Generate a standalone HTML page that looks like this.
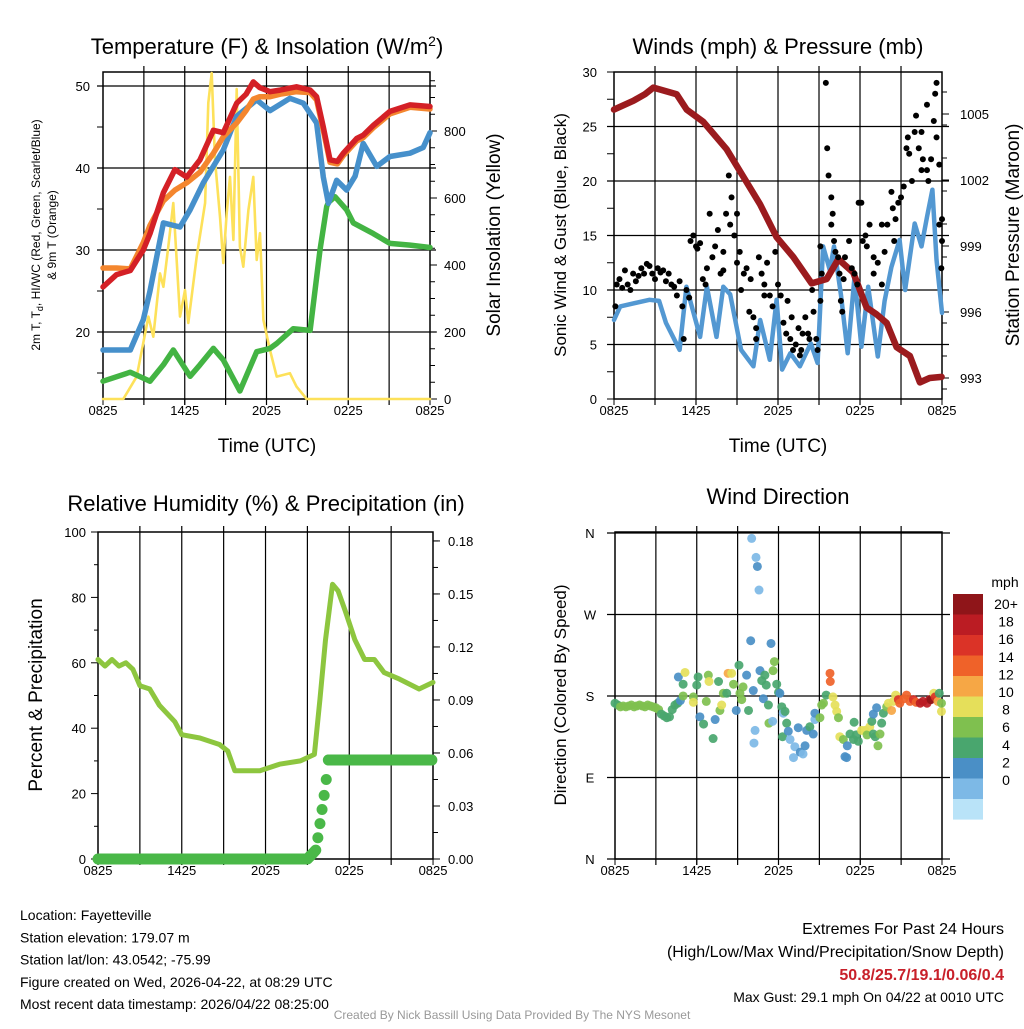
<!DOCTYPE html>
<html><head><meta charset="utf-8">
<style>
body{margin:0;background:#fff;width:1024px;height:1024px;overflow:hidden;font-family:"Liberation Sans",sans-serif}
svg text{font-family:"Liberation Sans",sans-serif}
</style></head>
<body>
<svg id="s" width="1024" height="1024" xmlns="http://www.w3.org/2000/svg">
<g id="g"></g>
</svg>
<script>
// ---- Panel 1 data ----
const tempHours=[0,1,2,2.96,3.45,4.43,5.28,6.14,7.12,8.1,8.83,9.81,10.5,11.03,11.5,12.26,13,14.2,15.2,15.68,16.17,16.66,17.2,17.64,18.62,19.1,19.84,21.06,22.53,24];
const tempRed=[25.5,27,27.5,30,32,37,39.8,38.9,41,44.6,44.3,47.9,49,50.5,49.8,49.3,49.5,49.9,49.5,48.7,45,41,40.8,41.8,43.6,44,45.2,46.9,47.7,47.5];
const tempOrange=[27.8,27.8,27.7,30.9,33,36,37.3,38.2,39.5,41.8,43.8,45.5,47,48.4,48.7,48.7,49,49.3,49.2,48.3,44.6,40.7,40.5,41.5,43.3,43.7,44.9,46.6,47.4,47.2];
const dewHours=[0,2,2.96,3.45,4.43,5.65,6.39,7.36,8.83,9.81,11.28,12.26,13.72,14.7,15.68,16.17,16.54,17.15,17.88,18.5,19.1,20.09,21.06,22.53,23.5,24];
const dewBlue=[17.8,17.8,21.5,25,33.3,32.8,34.9,38.2,42.2,46.3,48.3,47,48.5,47.9,45.5,38.9,35.7,38.5,37.3,39,43,40.2,41.4,41.8,42.5,44.3];
const hiHours=[0,2,3.45,4.43,5.16,6.39,7.12,8.1,8.83,10.05,11.28,12.26,12.75,13.97,15.2,15.93,16.42,16.54,17.03,17.88,18.37,19.84,21.06,22.53,24];
const hiGreen=[14,15.1,14,16,17.8,14.6,16,18,16.6,12.8,17.6,18,18.6,20.4,20.2,30,35.3,35.8,36.5,34.9,33.3,32,30.8,30.6,30.3];
const solHours=[0,1.49,2.47,3.33,3.69,4.18,4.43,4.79,5.16,5.65,6.02,6.26,6.88,7.49,7.73,7.98,8.22,8.59,8.83,9.08,9.32,9.57,9.81,10.05,10.3,10.67,11.03,11.28,11.52,11.77,12.26,12.75,13.72,14.2,14.95,24];
const solar=[0,0,67,246,186,375,335,455,585,246,325,227,425,585,884,973,713,544,406,555,663,475,925,455,395,564,663,415,495,236,146,67,77,37,0,0];
// ---- Panel 2 data ----
const presHours=[0,1.41,2.27,2.88,4.58,5.32,6.53,8.24,9.46,10.68,11.9,13.12,14.46,15.56,16.41,17.5,18.48,19.2,19.95,20.68,21.65,22.38,23.1,23.97];
const pressure=[1005.2,1005.6,1005.9,1006.2,1005.9,1005.2,1004.65,1003.4,1002.15,1000.9,999.4,998.5,997.3,997.5,998.4,997.8,996.2,995.9,995.5,994.4,994,992.8,993,993.05];
const windHours=[0,0.45,2.6,3.3,3.8,4.8,5.3,6.3,6.8,7.5,8,8.5,9.3,10.2,10.7,11.4,11.9,12.3,12.9,13.6,14.4,14.9,15.3,15.8,16.1,16.6,17.1,17.6,18.1,18.6,19.3,19.8,20.3,20.9,21.3,22,22.5,22.9,23.3,23.6,24];
const windSonic=[7.25,8.5,9.1,9,7,4.5,10.3,5.7,10.3,5.7,10.3,9.6,4.5,3,7.25,3.6,9.1,2.7,4.2,3,5.1,3.3,14,11.8,14,9.6,4.2,11.2,4.8,10.3,3.9,9,12.1,14.6,10,16.1,14,16.7,19.2,12.8,7.9];
const gustHours=[0.1,0.2,0.4,0.6,0.8,1,1.2,1.4,1.6,1.8,2,2.2,2.4,2.6,2.8,3,3.2,3.4,3.6,3.8,4,4.2,4.4,4.6,4.8,5,5.1,5.3,5.5,5.6,5.8,6,6.1,6.3,6.5,6.7,6.8,7,7.2,7.4,7.6,7.8,8,8,8.2,8.4,8.5,8.6,8.8,9,9,9.2,9.3,9.5,9.7,9.9,10,10.2,10.4,10.4,10.6,10.8,11,11,11.2,11.4,11.6,11.8,12,12.2,12.4,12.6,12.7,12.9,13,13.1,13.3,13.5,13.6,13.7,13.8,14,14.2,14.3,14.5,14.6,14.8,14.9,15.1,15.1,15.2,15.5,15.6,15.7,15.9,15.9,16,16.1,16.2,16.4,16.5,16.6,16.7,16.8,16.9,17.2,17.4,17.6,17.8,17.9,18.1,18.2,18.4,18.5,18.7,19,19,19.3,19.6,19.8,19.6,20,20.3,20.4,20.5,20.6,20.8,21,21.2,21.4,21.5,21.6,21.8,22,22.1,22.3,22.5,22.6,22.9,23,23.2,23.4,23.6,23.8,24,23.95,23.8,24,23.5,23.6,22.9,22.5];
const gustValues=[8.5,10.5,11,10.2,11.8,10.5,10,11.5,10.8,11.3,12,11.5,12.4,12.2,11.5,11,12,11.6,11.8,10.8,11.5,10.5,10.3,9.5,10.8,8.5,5.5,10,9.3,14.5,15,14,13.8,14.3,11,10.5,12,17,13,14,15.5,11.5,13.5,11.8,17,20.5,16,18.5,15,17,12.5,13.5,10,11.5,12,8,11,7.5,6.5,5.5,13,11.5,10.5,9.5,12.5,9.5,8.5,13.5,10.5,9.5,7,6,9,5.5,7.5,4.5,5,6.5,4,4.5,6,7.5,6,5.5,10,8,5.5,4.5,9,14,11.5,29,23,20.5,16,18.5,17,14.5,13.5,13,11.5,9,8,11,13,14.5,12,11.5,10.5,18,18,14.5,15,14,16,13,11.5,12.5,16,13.5,10.5,16,19,17.5,14.5,16.5,18,18.5,19.5,23,24,22.5,20,24.5,26,23,21,22,27,20,22,25.5,24,21.5,14.5,12,16,16.5,28,29,21,24.5];
// ---- Panel 3 data ----
const rhHours=[0,0.5,1,1.5,2,2.5,3,3.7,4.4,5.5,6,7.3,8.7,9.3,9.8,10.5,11.6,13,14.5,15.5,15.9,16.3,16.8,17.2,17.7,18.4,19.1,19.8,20.5,21.6,23,24];
const rhValues=[61,59,61,59,60,58,53,52,47,42,38,37,35,33,27,27,27,29,30,32,49,67,84,82,76,67,61,61,57,55,52,54];
const prHours=[0,1,2,3,4,5,6,7,8,9,10,11,12,13,14,15,15.6,15.75,15.9,16.05,16.2,16.35,16.5,17,18,19,20,21,22,23,24];
const prValues=[0,0,0,0,0,0,0,0,0,0,0,0,0,0,0,0,0.005,0.012,0.02,0.028,0.036,0.045,0.056,0.056,0.056,0.056,0.056,0.056,0.056,0.056,0.056];
// ---- Panel 4 data ----
const dirHours=[0,0.2,0.4,0.6,0.8,1,1.2,1.4,1.6,1.8,2,2.2,2.4,2.6,2.8,3,3.2,3.4,3.6,3.8,4,4.2,4.4,4.6,4.65,4.8,5,5.0,5.14,5.75,5.75,6.1,6.0,6.23,6.5,6.7,6.85,6.9,7.2,7.35,7.6,7.7,7.83,7.95,8.2,8.3,8.56,8.7,8.9,9.1,9.17,9.3,9.4,9.66,9.8,9.96,10.03,10.15,10.2,10.28,10.35,10.45,10.57,10.64,10.77,10.89,11,11.1,11.26,11.3,11.45,11.57,11.6,11.7,11.87,12,12.1,12.24,12.3,12.35,12.48,12.6,12.72,12.85,13.1,13.2,13.45,13.6,13.8,13.95,14.07,14.3,14.55,14.67,14.67,15.04,15.17,15.3,15.5,15.78,15.8,16,16.15,16.27,16.4,16.5,16.76,16.88,17,17.05,17.25,17.5,17.55,17.7,17.86,18.1,18.35,18.5,18.7,18.85,18.96,19.1,18.96,19.2,19.3,19.45,19.57,19.7,19.94,20.07,20.3,20.43,20.6,20.8,20.9,21.2,21.4,21.65,21.9,22.1,22.4,22.6,22.9,23.1,23.2,23.4,23.5,23.7,23.8,23.96,23.96];
const dirDegrees=[172,170,168,169,168,169,170,168,169,170,169,168,170,169,168,167,165,160,158,156,157,165,170,172,201,175,193,180,206,179,173,201,192,157,149,174,203,196,133,154,196,164,170,183,183,205,205,193,164,214,183,176,190,203,164,241,354,186,128,142,333,323,297,208,197,177,203,192,170,150,238,152,208,218,193,184,183,168,135,161,163,150,141,132,112,124,145,118,116,125,142,146,138,154,161,156,170,172,181,205,196,179,170,163,156,135,132,113,112,125,138,132,151,137,130,142,142,137,146,152,138,135,160,167,125,138,150,161,168,172,164,174,181,176,172,177,181,174,176,173,172,174,172,176,176,183,179,174,183,163,172];
const dirSpeeds=[6,6,8,8,8,8,8,8,8,8,8,8,8,8,8,8,8,6,6,6,6,6,6,6,4,4,6,8,10,8,10,6,6,4,6,8,8,10,6,4,6,8,10,8,6,12,10,8,4,6,8,8,8,4,6,4,2,4,2,2,2,4,2,4,6,4,6,6,6,8,4,2,8,8,6,6,4,6,6,2,6,6,4,2,2,2,4,4,2,4,4,6,4,2,4,8,8,8,6,14,14,10,10,10,8,10,8,4,4,4,6,6,6,6,6,10,10,8,10,6,6,6,4,4,8,8,6,6,8,10,12,10,10,16,14,14,14,14,16,14,18,18,18,18,20,10,16,12,6,10,8];
const cbLabels=["20+","18","16","14","12","10","8","6","4","2","0"];
const cbColors=["#8f1519","#bb1c23","#db3327","#ef6229","#f6a745","#e5df5a","#7fc04f","#49a66e","#4a8fc6","#7db9e6","#b9e3f8"];

const NS="http://www.w3.org/2000/svg";
const G=document.getElementById('g');
function el(tag,attrs,parent){const e=document.createElementNS(NS,tag);for(const k in attrs)e.setAttribute(k,attrs[k]);(parent||G).appendChild(e);return e;}
function txt(x,y,s,size,anchor,extra){const t=el('text',Object.assign({x:x,y:y,'font-size':size,'text-anchor':anchor||'middle',fill:'#000'},extra||{}));t.textContent=s;return t;}
function line(x1,y1,x2,y2,c,w){return el('line',{x1:x1,y1:y1,x2:x2,y2:y2,stroke:c||'#000','stroke-width':w||1});}
function poly(hs,vs,fx,fy,c,w){let d='';for(let i=0;i<hs.length;i++)d+=(i?'L':'M')+fx(hs[i]).toFixed(1)+','+fy(vs[i]).toFixed(1);return el('path',{d:d,fill:'none',stroke:c,'stroke-width':w,'stroke-linejoin':'round','stroke-linecap':'round'});}
const xt=["0825","1425","2025","0225","0825"];

function frame(x0,x1,y0,y1,xh,hgrid,gx0,gx1){
  for(let h=3;h<24;h+=3){const l=line(xh(h),y0-6,xh(h),y1+6,'#000',1.2);}
  hgrid.forEach(y=>{const l=line(gx0||x0-8,y,gx1||x1+8,y,'#000',1.2);});
  const r=el('rect',{x:x0,y:y0,width:x1-x0,height:y1-y0,fill:'none',stroke:'#000','stroke-width':1.5});
  
  for(let i=0;i<5;i++){const x=xh(i*6);line(x,y1,x,y1+6);const t=txt(x,y1+16,xt[i],13);}
}

// ===== Panel 1 =====
(function(){
  const xh=h=>103+h*13.625, yT=t=>86+(50-t)*8.2, yS=v=>399-v*0.335;
  frame(103,430,72,399,xh,[20,30,40,50].map(yT),97,436);
  for(let t=15;t<=50;t+=5){line(97,yT(t),103,yT(t));}
  [20,30,40,50].forEach(t=>{const k=txt(90,yT(t)+5,String(t),13,'end');});
  for(let v=0;v<=950;v+=50){line(430,yS(v),v%200==0?437:435,yS(v));}
  [0,200,400,600,800].forEach(v=>{const k=txt(444,yS(v)+5,String(v),13,'start');});
  const s1=poly(solHours,solar,xh,yS,'#fde15a',2.6);
  const s2=poly(hiHours,hiGreen,xh,yT,'#43b443',5.5);
  const s3=poly(dewHours,dewBlue,xh,yT,'#4690cb',5.5);
  const s4=poly(tempHours,tempOrange,xh,yT,'#f4862e',5.5);
  const s5=poly(tempHours,tempRed,xh,yT,'#d42026',5.5);
  const t=el('text',{x:267,y:54,'font-size':22,'text-anchor':'middle'});t.innerHTML='Temperature (F) &amp; Insolation (W/m<tspan dy="-8" font-size="14">2</tspan><tspan dy="8">)</tspan>';
  
  const a=txt(267,452,'Time (UTC)',19);
  const yl=el('text',{x:0,y:0,'font-size':12,'text-anchor':'middle',transform:'translate(40,235) rotate(-90)'});
  yl.innerHTML='2m T, T<tspan dy="3" font-size="9">d</tspan><tspan dy="-3">, HI/WC (Red, Green, Scarlet/Blue)</tspan>';
  
  const yl2=txt(0,0,'& 9m T (Orange)',12,'middle',{transform:'translate(56,235) rotate(-90)'});
  const yr=txt(0,0,'Solar Insolation (Yellow)',19,'middle',{transform:'translate(500,235) rotate(-90)'});
})();

// ===== Panel 2 =====
(function(){
  const xh=h=>614+h*13.667, yW=v=>399-v*10.9, yP=p=>378-(p-993)*22;
  frame(614,942,72,399,xh,[5,10,15,20,25].map(yW),607,949);
  for(let v=0;v<=30;v+=2.5){line(607,yW(v),614,yW(v));}
  [0,5,10,15,20,25,30].forEach(v=>{const k=txt(597,yW(v)+5,String(v),13,'end');});
  for(let p=992.5;p<=1006.5;p+=1.5){line(942,yP(p),947,yP(p));}
  [993,996,999,1002,1005].forEach(p=>{line(942,yP(p),949,yP(p));const k=txt(960,yP(p)+5,String(p),13,'start');});
  const w=poly(windHours,windSonic,xh,yW,'#5398d2',4.5);
  const p=poly(presHours,pressure,xh,yP,'#9b1b1e',6.5);
  for(let i=0;i<gustHours.length;i++){const c=el('circle',{cx:xh(gustHours[i]),cy:yW(gustValues[i]),r:3,fill:'#000'});
    
    }
  const t=txt(778,54,'Winds (mph) & Pressure (mb)',22);
  const a=txt(778,452,'Time (UTC)',19);
  const yl=txt(0,0,'Sonic Wind & Gust (Blue, Black)',17,'middle',{transform:'translate(566,235) rotate(-90)'});
  const yr=txt(0,0,'Station Pressure (Maroon)',19,'middle',{transform:'translate(1019,235) rotate(-90)'});
})();

// ===== Panel 3 =====
(function(){
  const xh=h=>98+h*13.96, yR=v=>859-v*3.27, yPr=p=>859-p*1767;
  frame(98,433,532,859,xh,[]);
  for(let v=0;v<=100;v+=10){line(v%20==0?91:94,yR(v),98,yR(v));}
  [0,20,40,60,80,100].forEach(v=>{const k=txt(86,yR(v)+5,String(v),13,'end');});
  for(let p=0;p<=0.18001;p+=0.015){line(433,yPr(p),438,yPr(p));}
  ["0.00","0.03","0.06","0.09","0.12","0.15","0.18"].forEach(s=>{const p=+s;line(433,yPr(p),440,yPr(p));const k=txt(448,yPr(p)+5,s,13,'start');});
  const r=poly(rhHours,rhValues,xh,yR,'#8dc63f',5);
  for(let i=0;i<prHours.length-1;i++){const n=prHours[i+1]-prHours[i]>0.3?12:1;for(let j=0;j<n;j++){const f=j/n;const h=prHours[i]+f*(prHours[i+1]-prHours[i]);const v=prValues[i]+f*(prValues[i+1]-prValues[i]);
    const c=el('circle',{cx:xh(h),cy:yPr(v),r:5.5,fill:'#4ab848'});
    
    }}
  const t=txt(266,511,'Relative Humidity (%) & Precipitation (in)',22);
  const yl=txt(0,0,'Percent & Precipitation',19,'middle',{transform:'translate(42,695) rotate(-90)'});
})();

// ===== Panel 4 =====
(function(){
  const xh=h=>615+h*13.625, yD=d=>859-d*0.9056;
  frame(615,942,532,859,xh,[90,180,270,360,0].map(yD),607,950);
  ["N","E","S","W","N"].forEach((s,i)=>{const k=txt(590,yD(i*90)+5,s,13,'middle');});
  function col(s){let i=Math.min(10,Math.floor(s/2));return cbColors[10-i];}
  for(let i=0;i<dirHours.length;i++){const c=el('circle',{cx:xh(dirHours[i]),cy:yD(dirDegrees[i]),r:4.5,fill:col(dirSpeeds[i]),'fill-opacity':0.92});
    
    }
  const t=txt(778,504,'Wind Direction',22);
  const yl=txt(0,0,'Direction (Colored By Speed)',17,'middle',{transform:'translate(566,695) rotate(-90)'});
  const cbt=txt(1005,587,'mph',14,'middle');
  for(let i=0;i<11;i++){const r=el('rect',{x:953,y:594+i*20.5,width:30,height:20.6,fill:cbColors[i]});
    
    
    const k=txt(1006,609+i*17.6,cbLabels[i],14,'middle');
    
    }
})();

// ===== Footer text =====
(function(){
  const left=["Location: Fayetteville","Station elevation: 179.07 m","Station lat/lon: 43.0542; -75.99","Figure created on Wed, 2026-04-22, at 08:29 UTC","Most recent data timestamp: 2026/04/22 08:25:00"];
  left.forEach((s,i)=>{const k=txt(20,920+i*22.3,s,14,'start');});
  const r1=txt(1004,934,'Extremes For Past 24 Hours',16,'end');
  const r2=txt(1004,957,'(High/Low/Max Wind/Precipitation/Snow Depth)',16,'end');
  const r3=txt(1004,980,'50.8/25.7/19.1/0.06/0.4',16,'end',{fill:'#c8202a','font-weight':'bold'});
  const r4=txt(1004,1002,'Max Gust: 29.1 mph On 04/22 at 0010 UTC',14,'end');
  const f=txt(512,1019,'Created By Nick Bassill Using Data Provided By The NYS Mesonet',12,'middle',{fill:'#999'});
})();
</script>
</body></html>
